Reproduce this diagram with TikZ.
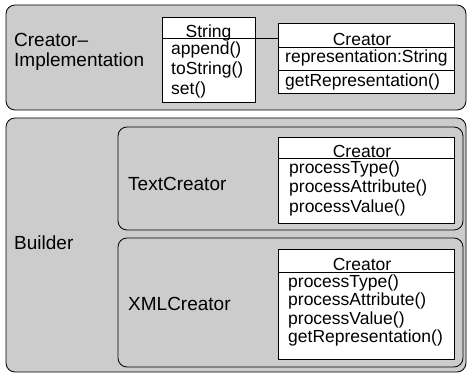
\documentclass[tikz,border=0pt]{standalone}
\usepackage{fontspec}
\setmainfont{Liberation Sans}
\usetikzlibrary{positioning}

\tikzset{
  group/.style={draw, fill=black!20, rounded corners=9pt, line width=0.8pt},
  cls/.style={draw, fill=white, anchor=north west, inner sep=0pt, line width=0.8pt},
  lbl/.style={anchor=base west, inner sep=0pt, font=\fontsize{19}{20}\selectfont},
  txt/.style={anchor=base west, inner sep=0pt, font=\fontsize{17.5}{19}\selectfont},
  head/.style={anchor=base, inner sep=0pt, text depth=0pt, font=\fontsize{17.5}{19}\selectfont},
}

\begin{document}
\begin{tikzpicture}[x=1pt,y=-1pt]
    \useasboundingbox (0,0) rectangle (468,374);
    % groups
    \draw[group] (6,5) rectangle (466,110);
    \draw[group] (6,118) rectangle (466,372);
    \draw[group] (118,127) rectangle (463,230);
    \draw[group] (118,238) rectangle (463,367);
    \node[lbl] (implA) at (14,47) {Creator--};
    \node[lbl] (implB) at (14,67) {Implementation};
    \node[lbl] (builder) at (14,249) {Builder};
    \node[lbl] (textcr) at (128,190) {TextCreator};
    \node[lbl] (xmlcr) at (128,310) {XMLCreator};

    % String class
    \node[cls, minimum width=93pt, minimum height=85pt] (strbox) at (162,17) {};
    \coordinate (strL) at (162,38);
    \coordinate (strR) at (255,38);
    \draw[line width=0.8pt] (strL) -- (strR);
    \node[head] (strname) at (208.5,38) {String};
    \node[txt] (strA) at (171,55) {append()};
    \node[txt] (strB) at (171,75) {toString()};
    \node[txt] (strC) at (171,95) {set()};

    % Creator (implementation)
    \node[cls, minimum width=176pt, minimum height=70pt] (crimpl) at (278,23) {};
    \draw[line width=0.8pt] (crimpl.west |- 0,47) -- (crimpl.east |- 0,47);
    \draw[line width=0.8pt] (crimpl.west |- 0,70) -- (crimpl.east |- 0,70);
    \node[head] (crimplname) at (362,46) {Creator};
    \node[txt] (crimplA) at (285,63) {representation:String};
    \node[txt] (crimplB) at (285,87) {getRepresentation()};
    \draw[line width=0.8pt] (strR) -- (crimpl.west |- strR);

    % Creator (TextCreator)
    \node[cls, minimum width=176pt, minimum height=86pt] (crtext) at (278,137) {};
    \draw[line width=0.8pt] (crtext.west |- 0,158) -- (crtext.east |- 0,158);
    \node[head] (crtextname) at (362,158) {Creator};
    \node[txt] (crtextA) at (289,174) {processType()};
    \node[txt] (crtextB) at (289,193) {processAttribute()};
    \node[txt] (crtextC) at (289,212) {processValue()};

    % Creator (XMLCreator)
    \node[cls, minimum width=176pt, minimum height=110pt] (crxml) at (278,249) {};
    \draw[line width=0.8pt] (crxml.west |- 0,272) -- (crxml.east |- 0,272);
    \node[head] (crxmlname) at (362,270.5) {Creator};
    \node[txt] (crxmlA) at (288,287) {processType()};
    \node[txt] (crxmlB) at (288,305.5) {processAttribute()};
    \node[txt] (crxmlC) at (288,324) {processValue()};
    \node[txt] (crxmlD) at (288,342.5) {getRepresentation()};
\end{tikzpicture}
\end{document}
